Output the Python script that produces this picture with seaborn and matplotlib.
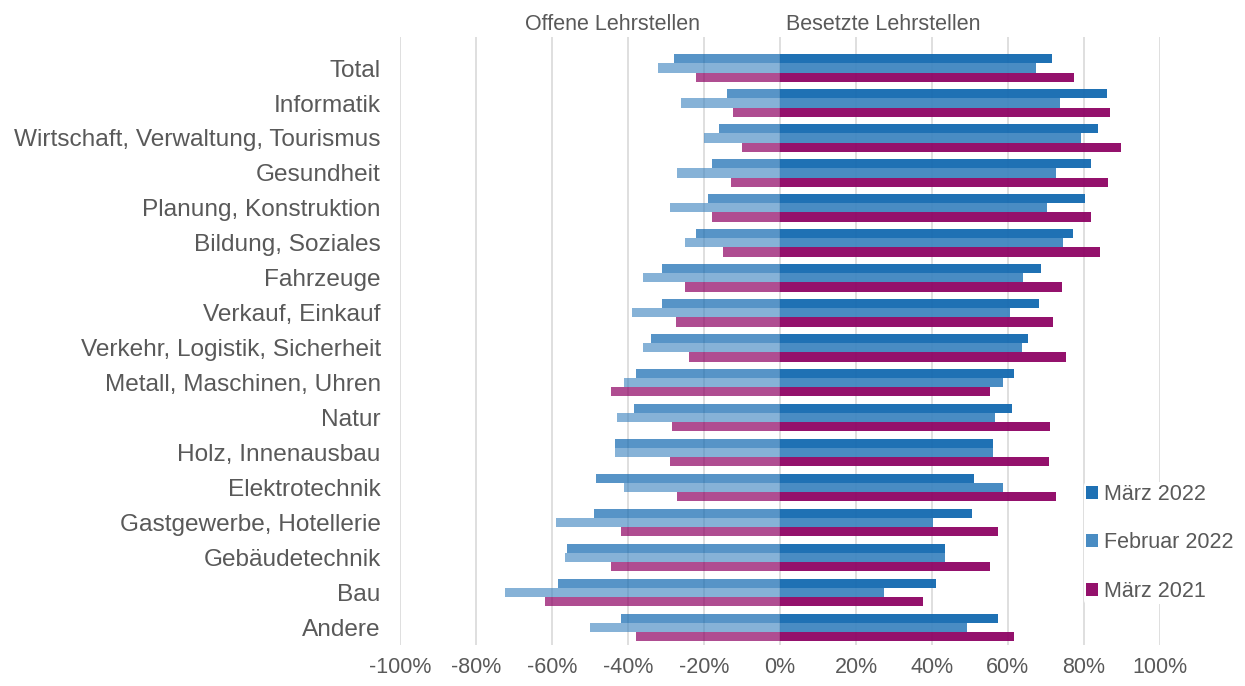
import pandas as pd
import seaborn as sns
import matplotlib.pyplot as plt

# Data (share of apprenticeship positions, in %)
categories = ["Total", "Informatik", "Wirtschaft, Verwaltung, Tourismus", "Gesundheit",
              "Planung, Konstruktion", "Bildung, Soziales", "Fahrzeuge", "Verkauf, Einkauf",
              "Verkehr, Logistik, Sicherheit", "Metall, Maschinen, Uhren", "Natur",
              "Holz, Innenausbau", "Elektrotechnik", "Gastgewerbe, Hotellerie",
              "Gebäudetechnik", "Bau", "Andere"]
months = ["März 2022", "Februar 2022", "März 2021"]

offen_mrz22 = [-28, -14, -16, -18, -19, -22, -31, -31, -34, -38, -38.5, -43.5, -48.5, -49, -56, -58.5, -42]
offen_feb22 = [-32, -26, -20, -27, -29, -25, -36, -39, -36, -41, -43, -43.5, -41, -59, -56.5, -72.5, -50]
offen_mrz21 = [-22, -12.5, -10, -13, -18, -15, -25, -27.5, -24, -44.5, -28.5, -29, -27, -42, -44.5, -62, -38]

besetzt_mrz22 = [71.7, 86, 83.7, 81.8, 80.3, 77.2, 68.7, 68.3, 65.3, 61.6, 61, 56, 51, 50.6, 43.5, 41, 57.3]
besetzt_feb22 = [67.4, 73.8, 79.4, 72.6, 70.4, 74.5, 64, 60.6, 63.8, 58.8, 56.7, 56, 58.6, 40.4, 43.5, 27.5, 49.3]
besetzt_mrz21 = [77.5, 87, 89.8, 86.5, 81.8, 84.3, 74.2, 72, 75.4, 55.2, 71.1, 70.8, 72.6, 57.3, 55.2, 37.7, 61.6]

colors = ["#1369B0", "#3F86C0", "#8E0464"]
text_color = "#595959"


def to_long(values_by_month):
    df = pd.DataFrame(dict(zip(months, values_by_month)), index=categories)
    df.index.name = "kategorie"
    return df.reset_index().melt(id_vars="kategorie", var_name="monat", value_name="wert")


offen_df = to_long([offen_mrz22, offen_feb22, offen_mrz21])
besetzt_df = to_long([besetzt_mrz22, besetzt_feb22, besetzt_mrz21])

sns.set_style("white")
plt.rcParams["font.family"] = ["Liberation Sans", "DejaVu Sans"]

fig = plt.figure(figsize=(12.45, 6.86), dpi=100)
ax = fig.add_axes([0.3215, 0.06, 0.61, 0.886])

sns.barplot(data=offen_df, y="kategorie", x="wert", hue="monat", hue_order=months,
            order=categories, orient="h", palette=colors, saturation=1, width=0.78,
            linewidth=0, legend=False, ax=ax)
# lighter, see-through bars for the open positions
for cont, a in zip(ax.containers, [0.71, 0.63, 0.71]):
    for patch in cont:
        patch.set_alpha(a)

sns.barplot(data=besetzt_df, y="kategorie", x="wert", hue="monat", hue_order=months,
            order=categories, orient="h", palette=colors, saturation=1, width=0.78,
            linewidth=0, alpha=0.95, ax=ax)

ax.set_xlim(-100, 100)
ax.set_ylim(16.49, -0.886)
ax.set_xticks(range(-100, 101, 20))
ax.set_xticklabels([f"{t}%" for t in range(-100, 101, 20)])
ax.set_xlabel("")
ax.set_ylabel("")
ax.set_axisbelow(True)
ax.grid(axis="x", color="#D9D9D9", linewidth=1.2)
ax.grid(axis="y", visible=False)
sns.despine(ax=ax, left=True, bottom=True)
ax.tick_params(axis="y", length=0, pad=14, labelsize=17.6, labelcolor=text_color)
ax.tick_params(axis="x", length=0, pad=9, labelsize=15.5, labelcolor=text_color)

fig.text(0.492, 0.965, "Offene Lehrstellen", ha="center", va="center",
         fontsize=15.5, color=text_color)
fig.text(0.7095, 0.965, "Besetzte Lehrstellen", ha="center", va="center",
         fontsize=15.5, color=text_color)

leg = ax.legend(loc="upper left", bbox_to_anchor=(1084 / 1245, 1 - 482 / 686),
                bbox_transform=fig.transFigure, frameon=True, fontsize=15.5,
                handlelength=0.55, handleheight=0.55, handletextpad=0.3,
                labelspacing=1.27, borderpad=0.1, borderaxespad=0)
leg.get_frame().set_facecolor("white")
leg.get_frame().set_edgecolor("none")
leg.get_frame().set_alpha(1)
for t in leg.get_texts():
    t.set_color(text_color)

plt.savefig("out.png", dpi=100)
